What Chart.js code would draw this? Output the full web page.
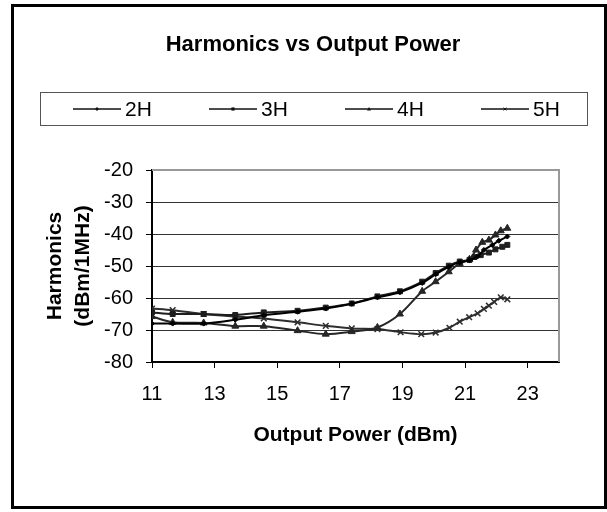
<!DOCTYPE html>
<html>
<head>
<meta charset="utf-8">
<script src="https://cdn.jsdelivr.net/npm/chart.js"></script>
<style>
  html, body { margin: 0; padding: 0; background: #fff; }
  canvas { display: block; }
</style>
</head>
<body>
<canvas id="chart" width="607" height="512"></canvas>
<script>
const chartTitle = 'Harmonics vs Output Power';
const xTitle = 'Output Power (dBm)';
const yTitle = ['Harmonics', '(dBm/1MHz)'];
const xTicks = [11, 13, 15, 17, 19, 21, 23];
const yTicks = [-80, -70, -60, -50, -40, -30, -20];

const seriesNames = ['2H', '3H', '4H', '5H'];

const power2H = [11, 11.66, 12.65, 13.66, 14.57, 15.65, 16.55, 17.38, 18.2, 18.92, 19.63, 20.06, 20.48, 20.83, 21.14, 21.4, 21.6, 21.87, 22.08, 22.35];
const level2H = [-68, -68, -68, -66.8, -65.4, -64.3, -63.3, -61.8, -59.8, -58.2, -55.3, -52.6, -50.3, -48.8, -48.2, -47, -45, -43.4, -42.1, -40.8];

const power3H = [11, 11.66, 12.65, 13.66, 14.57, 15.65, 16.55, 17.38, 18.2, 18.92, 19.63, 20.06, 20.48, 20.83, 21.14, 21.3, 21.5, 21.76, 21.97, 22.19, 22.35];
const level3H = [-64.5, -65, -65, -65.3, -64.5, -64, -63, -61.7, -59.5, -57.9, -54.9, -52.2, -49.9, -48.6, -48.1, -47.2, -46.6, -45.8, -44.8, -44, -43.4];

const power4H = [11, 11.66, 12.65, 13.66, 14.57, 15.65, 16.55, 17.38, 18.2, 18.92, 19.63, 20.06, 20.48, 20.83, 21.14, 21.35, 21.55, 21.76, 21.97, 22.14, 22.35];
const level4H = [-65.8, -67.6, -67.8, -68.8, -68.8, -70.2, -71.3, -70.5, -69.2, -65, -57.9, -54.9, -51.8, -49.2, -47.9, -45, -42.6, -41.9, -40.3, -39, -38.2];

const power5H = [11, 11.66, 12.65, 13.66, 14.57, 15.65, 16.55, 17.38, 18.2, 18.94, 19.6, 20.06, 20.5, 20.83, 21.13, 21.4, 21.6, 21.76, 21.93, 22.14, 22.35];
const level5H = [-63.3, -63.8, -65, -65.8, -66.4, -67.6, -68.7, -69.5, -69.7, -70.7, -71.3, -70.8, -69.3, -67.4, -66, -64.8, -63.4, -62.4, -61.2, -59.8, -60.4];

const seriesColors = ['#000000', '#1e1e1e', '#262626', '#2e2e2e'];
const seriesMarkers = ['rectRot', 'rect', 'triangle', 'crossRot'];
const markerSizes = [2.5, 3.5, 4, 4];

function toPoints(xs, ys) {
  return xs.map((x, i) => ({ x: x, y: ys[i] }));
}

const seriesData = [
  toPoints(power2H, level2H),
  toPoints(power3H, level3H),
  toPoints(power4H, level4H),
  toPoints(power5H, level5H)
];

// small marker shapes for the hand-drawn legend
function drawMarker(ctx, style, x, y, r) {
  ctx.beginPath();
  if (style === 'rectRot') {
    ctx.moveTo(x, y - r); ctx.lineTo(x + r, y); ctx.lineTo(x, y + r); ctx.lineTo(x - r, y);
    ctx.closePath(); ctx.fill();
  } else if (style === 'rect') {
    ctx.rect(x - r * 0.8, y - r * 0.8, r * 1.6, r * 1.6); ctx.fill();
  } else if (style === 'triangle') {
    ctx.moveTo(x, y - r); ctx.lineTo(x + r, y + r * 0.7); ctx.lineTo(x - r, y + r * 0.7);
    ctx.closePath(); ctx.fill();
  } else {
    ctx.lineWidth = 1;
    ctx.moveTo(x - r * 0.7, y - r * 0.7); ctx.lineTo(x + r * 0.7, y + r * 0.7);
    ctx.moveTo(x + r * 0.7, y - r * 0.7); ctx.lineTo(x - r * 0.7, y + r * 0.7);
    ctx.stroke();
  }
}

const framePlugin = {
  id: 'frame',
  beforeDraw(chart) {
    const ctx = chart.ctx;
    ctx.save();
    ctx.fillStyle = '#fff';
    ctx.fillRect(0, 0, chart.width, chart.height);
    ctx.restore();
  },
  afterDatasetsDraw(chart) {
    const ctx = chart.ctx;
    const a = chart.chartArea;
    ctx.save();
    // plot area border: gray on top and right
    ctx.strokeStyle = '#999';
    ctx.lineWidth = 2;
    ctx.beginPath();
    ctx.moveTo(a.left, a.top);
    ctx.lineTo(a.right, a.top);
    ctx.lineTo(a.right, a.bottom);
    ctx.stroke();
    ctx.restore();
  },
  afterDraw(chart) {
    const ctx = chart.ctx;
    ctx.save();
    // outer frame
    ctx.strokeStyle = '#000';
    ctx.lineWidth = 3;
    ctx.strokeRect(12.5, 5.5, 593, 502);

    // title
    ctx.fillStyle = '#000';
    ctx.font = 'bold 22px "Liberation Sans", Arial, sans-serif';
    ctx.textAlign = 'center';
    ctx.textBaseline = 'middle';
    ctx.fillText(chartTitle, 313, 45);

    // legend box
    ctx.strokeStyle = '#555';
    ctx.lineWidth = 1;
    ctx.strokeRect(40.5, 92.5, 547, 33);
    ctx.font = '21px "Liberation Sans", Arial, sans-serif';
    ctx.textAlign = 'left';
    const ly = 109;
    seriesNames.forEach((name, i) => {
      const sx = 73 + i * 136;
      ctx.strokeStyle = '#111';
      ctx.fillStyle = '#111';
      ctx.lineWidth = 1.5;
      ctx.beginPath();
      ctx.moveTo(sx, ly);
      ctx.lineTo(sx + 48, ly);
      ctx.stroke();
      drawMarker(ctx, seriesMarkers[i], sx + 24, ly, 2);
      ctx.fillStyle = '#000';
      ctx.fillText(name, sx + 52, ly + 1);
    });
    ctx.restore();
  }
};

const ctx = document.getElementById('chart').getContext('2d');

new Chart(ctx, {
  type: 'line',
  data: {
    datasets: seriesData.map((pts, i) => ({
      label: seriesNames[i],
      data: pts,
      borderColor: seriesColors[i],
      backgroundColor: seriesColors[i],
      borderWidth: 2,
      pointStyle: seriesMarkers[i],
      pointRadius: markerSizes[i],
      pointBorderWidth: i === 3 ? 1.5 : 1,
      pointBorderColor: seriesColors[i],
      pointBackgroundColor: seriesColors[i],
      tension: 0.3,
      fill: false
    }))
  },
  options: {
    responsive: false,
    animation: false,
    layout: { padding: { top: 170, right: 48, left: 0, bottom: 0 } },
    plugins: {
      legend: { display: false },
      title: { display: false },
      tooltip: { enabled: false }
    },
    scales: {
      x: {
        type: 'linear',
        min: 11,
        max: 24,
        afterBuildTicks: (scale) => { scale.ticks = xTicks.map(v => ({ value: v })); },
        afterFit: (scale) => { scale.height = 150; },
        grid: { drawOnChartArea: false, tickLength: 6, color: '#000', tickColor: '#000' },
        border: { color: '#000', width: 2 },
        ticks: {
          color: '#000',
          padding: 14,
          maxRotation: 0,
          font: { family: '"Liberation Sans", Arial, sans-serif', size: 20 }
        },
        title: {
          display: true,
          text: xTitle,
          color: '#000',
          font: { family: '"Liberation Sans", Arial, sans-serif', size: 21, weight: 'bold', lineHeight: 1.2 },
          padding: { top: 0, bottom: 64 }
        }
      },
      y: {
        type: 'linear',
        min: -80,
        max: -20,
        afterBuildTicks: (scale) => { scale.ticks = yTicks.map(v => ({ value: v })); },
        afterFit: (scale) => { scale.width = 152; },
        grid: {
          tickLength: 6,
          color: (c) => (c.tick && c.tick.value === -20 ? 'rgba(0,0,0,0)' : '#333'),
          tickColor: '#000'
        },
        border: { color: '#000', width: 2 },
        ticks: {
          color: '#000',
          padding: 13,
          font: { family: '"Liberation Sans", Arial, sans-serif', size: 20 }
        },
        title: {
          display: true,
          text: yTitle,
          color: '#000',
          font: { family: '"Liberation Sans", Arial, sans-serif', size: 21, weight: 'bold', lineHeight: 1.333 },
          padding: { top: 41, bottom: 0 }
        }
      }
    }
  },
  plugins: [framePlugin]
});
</script>
</body>
</html>
